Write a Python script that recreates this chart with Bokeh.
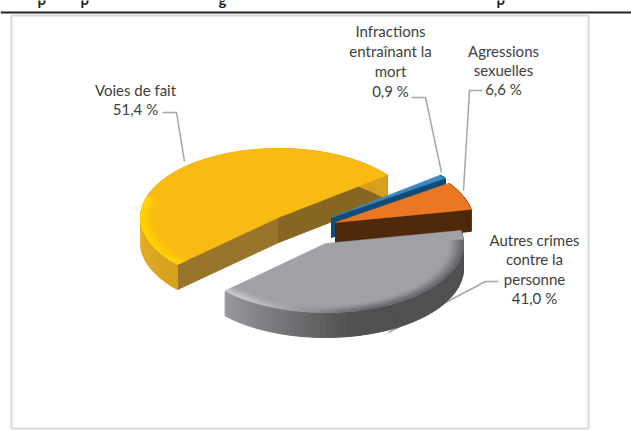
import math
from bokeh.plotting import figure
from bokeh.models import Range1d
from bokeh.core.properties import value
from bokeh.embed import file_html
from bokeh.resources import INLINE

categories = ["Voies de fait", "Infractions entraînant la mort", "Agressions sexuelles", "Autres crimes contre la personne"]
shares = [51.4, 0.9, 6.6, 41.0]
label_lines = [["Voies de fait", "51,4 %"],
               ["Infractions", "entraînant la", "mort", "0,9 %"],
               ["Agressions", "sexuelles", "6,6 %"],
               ["Autres crimes", "contre la", "personne", "41,0 %"]]
top_colors = ["#F9BB13", "#3F86C4", "#EC7722", "#A0A1A4"]
side_colors = ["#8F6C24", "#0F4C78", "#4F290C", "#57585A"]

W, H = 631, 430
START = 227.0
A, B = 138.0, 69.0
CENTERS = [(278, 217), (331, 217), (335, 222), (325, 243)]
DEPTHS = [25, 20, 22, 25]
LABEL_X = [135, 390, 503, 534]
LABEL_Y = [89, 30, 50, 239]
LINE_H = [19, 20, 19, 19.5]
LEADERS = [([162, 176, 184], [112, 112, 161]),
           ([411, 425, 441], [97, 97, 172]),
           ([482, 469, 463], [90, 90, 190]),
           ([498, 485, 388], [281, 281, 332])]

p = figure(width=W, height=H, x_range=Range1d(0, W), y_range=Range1d(H, 0),
           toolbar_location=None, output_backend="svg", min_border=0,
           outline_line_color=None, margin=(0, 0, 0, 0))
p.xaxis.visible = False
p.yaxis.visible = False
p.grid.visible = False

def mix(c1, c2, t):
    t = max(0.0, min(1.0, t))
    a = [int(c1[i:i+2], 16) for i in (1, 3, 5)]
    b = [int(c2[i:i+2], 16) for i in (1, 3, 5)]
    return "#%02x%02x%02x" % tuple(round(x + (y - x) * t) for x, y in zip(a, b))

def pt(c, deg, r=1.0, dz=0):
    th = math.radians(deg)
    return c[0] + A * r * math.sin(th), c[1] - B * r * math.cos(th) + dz

def arc(t0, t1, n):
    return [t0 + (t1 - t0) * i / n for i in range(n + 1)]

def poly(q, f, lw=1.0):
    p.patch([z[0] for z in q], [z[1] for z in q], fill_color=f, line_color=f, line_width=lw)

p.quad(left=[11], right=[588], top=[15], bottom=[428], fill_color="#FFFFFF", line_color="#D9D9D9", line_width=2)
p.line([0, W], [12, 12], line_color="#231F20", line_width=2)
for x, ch in zip([37, 80, 218, 496], "ppgp"):
    p.text([x], [-2], text=[ch], text_font=value("Lato"), text_font_size="15px", text_font_style="bold",
           text_color="#231F20", text_baseline="alphabetic")

for i in range(4):
    lx, ly = LEADERS[i]
    p.line(lx, ly, line_color="#A6A6A6", line_width=1.5)

bounds = [START]
for s in shares:
    bounds.append(bounds[-1] + s * 3.6)
spans = list(zip(bounds[:-1], bounds[1:]))

for i in range(4):
    t0, t1 = spans[i]
    c, d = CENTERS[i], DEPTHS[i]
    top, side = top_colors[i], side_colors[i]
    if i == 0:
        a0, a1 = pt(c, t0), pt(c, t1)
        poly([a0, c, (c[0], c[1] + d), (a0[0], a0[1] + d)], "#98752A")
        poly([c, a1, (a1[0], a1[1] + d), (c[0], c[1] + d)], "#876622")
    if i in (1, 2):
        q = [pt(c, t1), c, (c[0], c[1] + d), pt(c, t1, dz=d)]
        poly(q, side)
    # outer rim
    for a0, a1 in zip(arc(t0, t1, 70)[:-1], arc(t0, t1, 70)[1:]):
        m = (a0 + a1) / 2 % 360
        if i == 0:
            f = mix("#D79F1C", "#E9B32A", (m - 227) / 50)
        elif i == 3:
            f = mix("#4F5052", "#97989B", (m - 170) / 55)
        else:
            f = side
        poly([pt(c, a0), pt(c, a1), pt(c, a1, dz=d), pt(c, a0, dz=d)], f)
    # top face
    ring = arc(t0, t1, 90)
    poly([c] + [pt(c, t) for t in ring], top, 0.5)
    # soft bevel along the rim
    if i in (0, 3):
        n = 7
        segs = arc(t0, t0 + 60, 24) if i == 0 else arc(t0 + 8, t1, 44)
        for k in range(n):
            r0, r1 = 1 - 0.10 * k / n, 1 - 0.10 * (k + 1) / n
            for a0, a1 in zip(segs[:-1], segs[1:]):
                m = (a0 + a1) / 2 % 360
                if i == 0:
                    edge = "#FFD800"
                else:
                    edge = mix("#5E5F62", "#CFD0D2", (m - 165) / 50)
                col = mix(edge, top, (k + 0.5) / n)
                poly([pt(c, a0, r0), pt(c, a1, r0), pt(c, a1, r1), pt(c, a0, r1)], col, 0.5)

for i, lines in enumerate(label_lines):
    for j, s in enumerate(lines):
        p.text([LABEL_X[i]], [LABEL_Y[i] + LINE_H[i] * j], text=[s], text_font=value("Lato"), text_font_size="15px",
               text_color="#404040", text_align="center", text_baseline="middle")

open("out.html", "w").write(file_html(p, INLINE))
